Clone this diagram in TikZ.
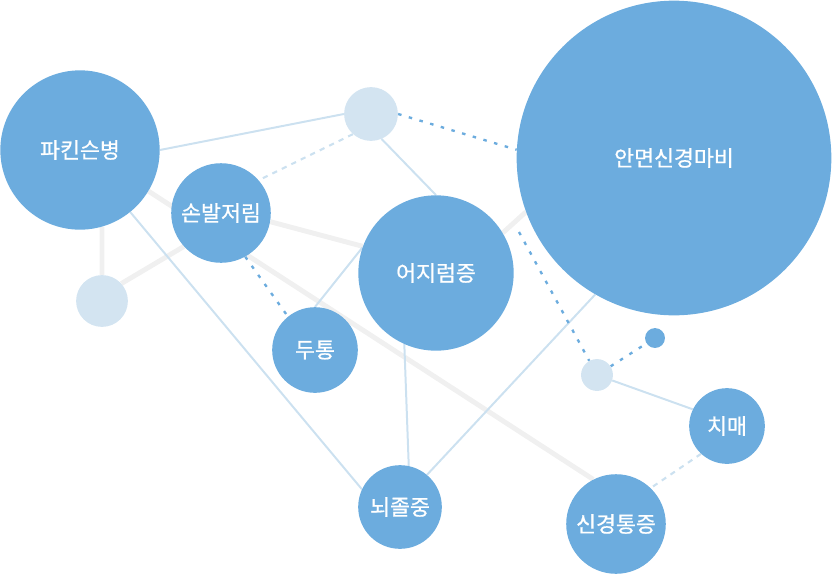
\documentclass[tikz,border=0pt]{standalone}
\usepackage{fontspec}
\newfontfamily\kr[FakeBold=0.8]{Noto Sans CJK KR}
\usetikzlibrary{backgrounds}
\definecolor{bubblue}{HTML}{6CACDE}
\definecolor{palefill}{HTML}{D3E4F1}
\definecolor{paleline}{HTML}{CCE1F0}
\definecolor{greyline}{HTML}{F0F0F0}

\begin{document}
\begin{tikzpicture}[x=0.03cm,y=-0.03cm,
    bub/.style={circle,inner sep=0pt,fill=bubblue,text=white,
        minimum size=#1*1.7pt,font={\kr\fontsize{18.5}{22}\selectfont}},
    pale/.style={circle,inner sep=0pt,fill=palefill,minimum size=#1*1.7pt},
    heavy/.style={draw=greyline,line width=4.2pt},
    link/.style={draw=paleline,line width=1.7pt},
    faint/.style={draw=paleline,line width=1.8pt,dash pattern=on 4.5pt off 4.5pt},
    dots/.style={draw=bubblue,line width=2pt,dash pattern=on 3pt off 6.5pt}]
\useasboundingbox (0,0) rectangle (832,574);

\node[bub=80] (park) at (80,150) {파킨슨병};
\node[pale=27] (hubA) at (371,114) {};
\node[bub=158] (face) at (674,158) {안면신경마비};
\node[bub=50] (numb) at (221,213) {손발저림};
\node[pale=26] (hubB) at (102,301) {};
\node[bub=78] (dizzy) at (436,273) {어지럼증};
\node[bub=43] (head) at (315,350) {두통};
\node[bub=10] (dot) at (655,338) {};
\node[pale=16] (hubC) at (597,375) {};
\node[bub=38] (dementia) at (727,426) {치매};
\node[bub=42] (stroke) at (400,507) {뇌졸중};
\node[bub=50] (pain) at (616,524) {신경통증};
\coordinate (tail) at (519,232);

\begin{scope}[on background layer]
\draw[heavy] (park.329) -- (pain.117);
\draw[heavy] (numb.350) -- (dizzy.160);
\draw[heavy] (hubB.north) -- (park.286);
\draw[heavy] (hubB.42) -- (numb.222);
\draw[heavy] (dizzy.31) -- (face.200);
\draw[link] (park.east) -- (hubA.west);
\draw[link] (park.309) -- (stroke.155);
\draw[link] (hubA.293) -- (dizzy.north);
\draw[link] (head.north) -- (dizzy.161);
\draw[link] (dizzy.246) -- (stroke.78);
\draw[link] (face.240) -- (stroke.50);
\draw[link] (hubC) -- (dementia.154);
\draw[faint] (hubA.228) -- (numb.41);
\draw[faint] (dementia.227) -- (pain.46);
\draw[dots] (hubA.east) -- (face.177);
\draw[dots] (numb.299) -- (head.129);
\draw[dots] (tail) -- (hubC);
\draw[dots] (hubC) -- (dot);
\end{scope}
\end{tikzpicture}
\end{document}
